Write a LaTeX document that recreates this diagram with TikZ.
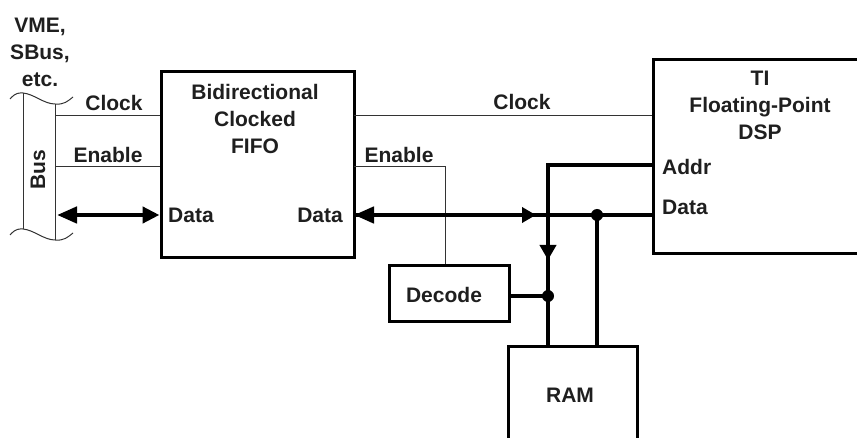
\documentclass[tikz,border=0pt]{standalone}
\usepackage{fontspec}
\setmainfont{Liberation Sans}
\usetikzlibrary{arrows.meta}
\begin{document}
\begin{tikzpicture}[x=1pt,y=-1pt,
  box/.style={draw=black,line width=3pt,rectangle,inner sep=0pt},
  lbl/.style={text=black!88,font=\fontsize{21}{27}\selectfont\bfseries,inner sep=0pt,align=center},
  thin/.style={draw=black!80,line width=1pt},
  bus/.style={draw=black,line width=4.5pt},
  dot/.style={circle,fill=black,inner sep=0pt,minimum size=12pt}]
\clip (0,0) rectangle (857,438);
\fill[white] (0,0) rectangle (857,438);
% boxes
\node[box,minimum width=193pt,minimum height=186pt] (fifo) at (257.5,165) {};
\node[box,minimum width=247pt,minimum height=194pt] (dsp) at (776.5,157) {};
\node[box,minimum width=120pt,minimum height=56pt] (dec) at (449,294) {};
\node[box,minimum width=129pt,minimum height=133pt] (ram) at (572.5,413.5) {};
% box texts
\node[lbl] (fifot) at (255,119) {Bidirectional\\Clocked\\FIFO};
\node[lbl] (dspt) at (760,105) {TI\\Floating-Point\\DSP};
\node[lbl] (dect) at (444,295) {Decode};
\node[lbl] (ramt) at (570,395) {RAM};
\node[lbl,anchor=west] (fdl) at (168,215) {Data};
\node[lbl,anchor=east] (fdr) at (343,215) {Data};
\node[lbl,anchor=west] (addr) at (662,167) {Addr};
\node[lbl,anchor=west] (ddat) at (662,207) {Data};
% bus
\node[lbl] (vme) at (40,52) {VME,\\SBus,\\etc.};
\node[lbl,rotate=90] (bust) at (38,170) {Bus};
\coordinate (bL1) at (23,93);
\coordinate (bL2) at (23,229);
\coordinate (bR1) at (55,104);
\coordinate (bR2) at (55,240);
\draw[thin] (10,99) .. controls (16,92) and (20,93) .. (bL1) .. controls (34,94) and (44,104) .. (bR1) .. controls (64,105) and (68,101) .. (73,97);
\draw[thin] (10,235) .. controls (16,228) and (20,229) .. (bL2) .. controls (34,230) and (44,240) .. (bR2) .. controls (64,241) and (68,237) .. (73,233);
\draw[thin] (bL1) -- (bL2);
\draw[thin] (bR1) -- (bR2);
% left signals
\coordinate (ckL) at (55,116);
\coordinate (enL) at (55,167);
\coordinate (daL) at (57,215);
\draw[thin] (ckL) -- (ckL -| fifo.west);
\draw[thin] (enL) -- (enL -| fifo.west);
\node[lbl] (ckLt) at (114,103) {Clock};
\node[lbl] (enLt) at (108,155) {Enable};
\draw[bus,{Triangle[length=20pt,width=16pt]}-{Triangle[length=17pt,width=16pt]}] (daL) -- (daL -| fifo.west);
% right signals
\coordinate (ckR) at (354,116);
\draw[thin] (ckR) -- (ckR -| dsp.west);
\node[lbl] (ckRt) at (522,102) {Clock};
\coordinate (enR) at (354,167);
\coordinate (enC) at (445,167);
\draw[thin] (enR) -- (enC) -- (enC |- dec.north);
\node[lbl] (enRt) at (399,155) {Enable};
% data bus
\coordinate (daR) at (354,215);
\coordinate (daA) at (536,215);
\node[dot] (j1) at (597,215) {};
\draw[bus] (daR) -- (daR -| dsp.west);
\draw[bus,{Triangle[length=20pt,width=16pt]}-] (daR) -- (daA);
\draw[bus,-{Triangle[length=14pt,width=15pt]}] (daR) -- (daA);
\draw[bus] (j1.center) -- (j1.center |- ram.north);
% addr bus
\coordinate (adC) at (548,165);
\coordinate (adA) at (548,260);
\draw[bus] (adC -| dsp.west) -- (adC) -- (adC |- ram.north);
\draw[bus,-{Triangle[length=15pt,width=16pt]}] (adC) -- (adA);
\node[dot] (j2) at (548,296) {};
\draw[bus] (dec.east |- j2) -- (j2.center);
\end{tikzpicture}
\end{document}
